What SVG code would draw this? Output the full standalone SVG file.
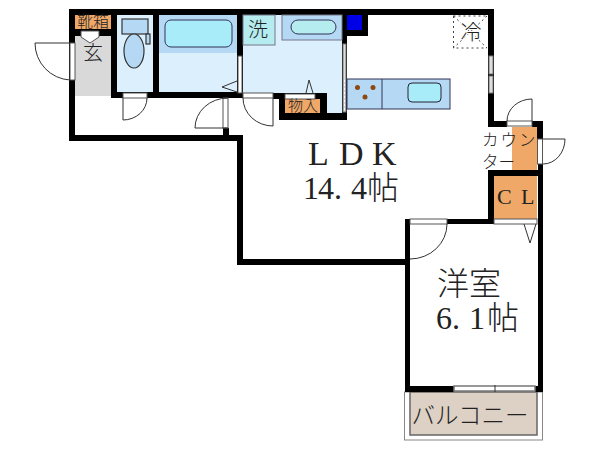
<svg xmlns="http://www.w3.org/2000/svg" width="600" height="450" viewBox="0 0 600 450">
<defs><style>
.w{fill:#000}
.t{font-family:"Liberation Serif","Noto Sans CJK JP",serif;fill:#222;text-anchor:middle;font-weight:300}
.s{font-family:"Liberation Serif","Noto Sans CJK JP",serif;fill:#222;font-weight:300}
.ln{fill:none;stroke:#333;stroke-width:1}
.bd{fill:#fff;stroke:#555;stroke-width:1}
.fx{stroke:#333;stroke-width:1.2}
</style></defs>
<rect width="600" height="450" fill="#fff"/>
<g id="rooms">
<rect x="75" y="36" width="36" height="60" fill="#d9d9d9"/>
<rect x="75" y="15" width="36" height="14" fill="#f0a868"/>
<rect x="117" y="15" width="36" height="77" fill="#dceffc"/>
<rect x="159" y="15" width="78" height="77" fill="#dceffc"/>
<rect x="159" y="15" width="78" height="38" fill="#b5d9f5"/>
<rect x="243" y="15" width="99" height="78" fill="#dceffc"/>
<rect x="327" y="93" width="15" height="20" fill="#dceffc"/>
<rect x="285" y="99" width="35" height="14" fill="#f0a868"/>
<rect x="512" y="127" width="25" height="43" fill="#f0a868"/>
<rect x="494" y="176" width="43" height="43" fill="#f0a868"/>
<rect x="404.500" y="392" width="138" height="48" fill="#fff" stroke="#888"/>
<rect x="410" y="392" width="127" height="43" fill="#ddd0c4" stroke="#666" stroke-width="1.500"/>
</g>
<g id="walls" class="w">
<rect x="69" y="9" width="425" height="6"/>
<rect x="69" y="9" width="6" height="132"/>
<rect x="69" y="135" width="174" height="6"/>
<rect x="75" y="29" width="42" height="7"/>
<rect x="111" y="15" width="6" height="83"/>
<rect x="153" y="15" width="6" height="83"/>
<rect x="111" y="92" width="132" height="6"/>
<rect x="237" y="15" width="6" height="83"/>
<rect x="223" y="128" width="6" height="7"/>
<rect x="237" y="135" width="6" height="130"/>
<rect x="237" y="259" width="173" height="6"/>
<rect x="273" y="93" width="54" height="6"/>
<rect x="279" y="93" width="6" height="27"/>
<rect x="320" y="93" width="7" height="27"/>
<rect x="279" y="113" width="68" height="7"/>
<rect x="342" y="15" width="5" height="105"/>
<rect x="347" y="15" width="21" height="21"/>
<rect x="488" y="9" width="6" height="118"/>
<rect x="488" y="121" width="19" height="6"/>
<rect x="532" y="121" width="11" height="6"/>
<rect x="537" y="121" width="6" height="18"/>
<rect x="488" y="170" width="55" height="6"/>
<rect x="488" y="170" width="6" height="54"/>
<rect x="447" y="219" width="47" height="5"/>
<rect x="405" y="219" width="5" height="173"/>
<rect x="538" y="164" width="5" height="228"/>
<rect x="405" y="386" width="49" height="6"/>
<rect x="535" y="386" width="8" height="6"/>
</g>
<g id="openings">
<rect x="70" y="43" width="5" height="37" class="bd"/>
<rect x="123" y="93" width="24" height="5" class="bd"/>
<rect x="223" y="98" width="5" height="30" class="bd"/>
<rect x="243" y="93" width="30" height="5" class="bd"/>
<rect x="507" y="121" width="25" height="5" class="bd"/>
<rect x="537.500" y="139" width="5" height="25" class="bd"/>
<rect x="410" y="219" width="37" height="5" class="bd"/>
<rect x="494" y="219" width="43" height="5" class="bd"/>
<rect x="285" y="94" width="30" height="5" class="bd"/>
<rect x="238" y="56" width="4" height="37" class="bd"/>
<rect x="343" y="44" width="3" height="68" fill="#ddd" stroke="#777"/>
<path d="M344.500 80V112" stroke="#fff" stroke-dasharray="2 2"/>
<rect x="489" y="56" width="4" height="18" fill="#ddd" stroke="#777"/>
<rect x="489" y="76" width="4" height="17" fill="#ddd" stroke="#777"/>
<rect x="454" y="386" width="81" height="5" fill="#fff" stroke="#777" stroke-width="1.500"/>
<path d="M495 385V392" class="ln"/>
</g>
<g id="doors" class="ln">
<path d="M35 43H70M35 43A37 37 0 0 0 70 80"/>
<path d="M123 98V120A24 22 0 0 0 147 98"/>
<path d="M228 98A33 30 0 0 0 195 128H228"/>
<path d="M243 98A30 28 0 0 0 273 126V98"/>
<path d="M532 121V99A25 22 0 0 0 507 121"/>
<path d="M543 139H565A22 25 0 0 1 543 164"/>
<path d="M447 224A37 35 0 0 1 410 259"/>
<path d="M524 224L530 243L536 224"/>
<path d="M306 93L309 80L313 93"/>
<path d="M237 81L222 87L237 92"/>
</g>
<g id="fixtures">
<g id="shoe-box"><text class="t" x="93" y="27" font-size="16">靴箱</text></g>
<g id="entry"><path d="M81 31H99V37L90 43L81 37Z" fill="#fff" stroke="#555"/><text class="t" x="93" y="60" font-size="20">玄</text></g>
<g id="toilet" class="fx">
<rect x="122" y="19" width="26" height="15" fill="#b5d9f5"/>
<ellipse cx="134" cy="51" rx="10" ry="17" fill="#b5d9f5"/>
<rect x="146" y="34" width="4" height="10" fill="#b5d9f5"/>
</g>
<g id="bath"><rect x="165" y="20" width="67" height="27" rx="6" fill="#a8ecfa" stroke="#335"/></g>
<g id="washer"><rect x="243" y="15" width="32" height="30" fill="#b4ecf0" stroke="#778"/><text class="t" x="258" y="37" font-size="20">洗</text></g>
<g id="basin"><rect x="282" y="15" width="60" height="25" fill="#b5d9f5" stroke="#778"/><rect x="291" y="20" width="45" height="14" rx="7" fill="#b4ecf0" stroke="#335"/></g>
<g id="storage"><text class="t" x="303" y="111" font-size="15">物入</text></g>
<g id="meter"><rect x="347" y="15" width="15" height="15" fill="#0000e6"/></g>
<g id="kitchen">
<rect x="347" y="79" width="103" height="30" fill="#b5d9f5" stroke="#335"/>
<path d="M382 79V109" stroke="#335"/>
<rect x="408" y="83" width="33" height="19" rx="4" fill="#a8ecfa" stroke="#223"/>
<circle cx="357.500" cy="87.500" r="2.500" fill="#8b4a14"/><circle cx="373" cy="87.500" r="2.500" fill="#8b4a14"/><circle cx="365" cy="97" r="2.500" fill="#8b4a14"/>
</g>
<g id="fridge"><path d="M453.500 16V48H487M453.500 16H487M453.500 16L487 48M487 16L453.500 48" fill="none" stroke="#444" stroke-dasharray="2 3"/><text class="t" x="471" y="39" font-size="21" style="paint-order:stroke" stroke="#fff" stroke-width="2">冷</text></g>
</g>
<g id="labels">
<text class="s" y="165" font-size="34"><tspan x="308">L</tspan><tspan x="339">D</tspan><tspan x="372">K</tspan></text>
<text class="s" y="199" font-size="32"><tspan x="303">1</tspan><tspan x="318">4</tspan><tspan x="334">.</tspan><tspan x="351">4</tspan><tspan x="367">帖</tspan></text>
<text class="s" x="482" y="146" font-size="16.500" letter-spacing="2">カウン</text>
<text class="s" x="482" y="168" font-size="16.500">ター</text>
<text class="s" y="204" font-size="22"><tspan x="497">C</tspan><tspan x="521">L</tspan></text>
<text class="s" x="437" y="295" font-size="32">洋室</text>
<text class="s" y="329" font-size="32"><tspan x="436">6</tspan><tspan x="452">.</tspan><tspan x="469">1</tspan><tspan x="487">帖</tspan></text>
<text class="t" x="470" y="424" font-size="23.500">バルコニー</text>
</g>
</svg>
